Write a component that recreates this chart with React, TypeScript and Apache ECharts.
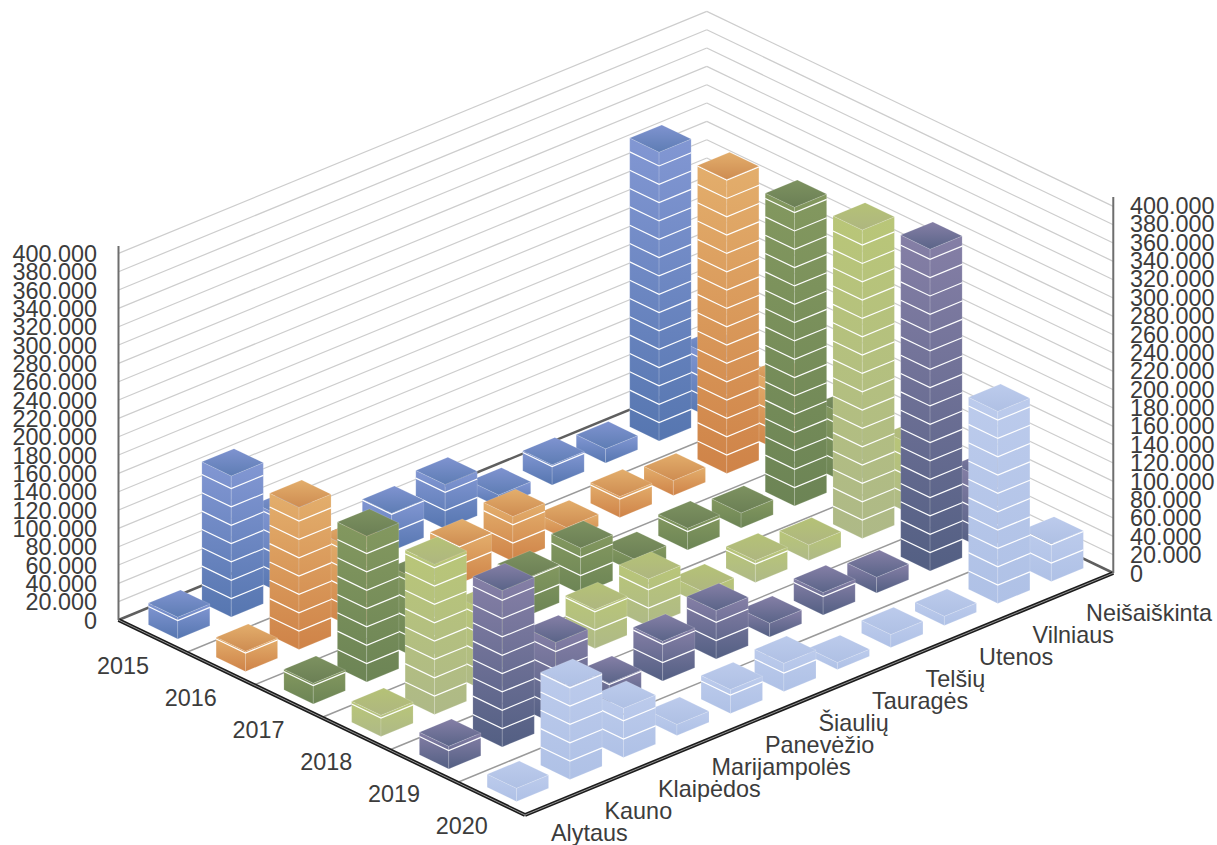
import React, { useEffect, useRef } from "react";
import * as echarts from "echarts";

const categories = ["Alytaus", "Kauno", "Klaipėdos", "Marijampolės", "Panevėžio", "Šiaulių", "Tauragės", "Telšių", "Utenos", "Vilniaus", "Neišaiškinta"];
const years = ["2015", "2016", "2017", "2018", "2019", "2020"];
const values2015 = [23700, 153800, 84000, 19000, 41000, 48400, 13000, 22000, 15300, 315000, 68000];
const values2016 = [22000, 155000, 86000, 19500, 40500, 49000, 13000, 22700, 16200, 320600, 72400];
const values2017 = [22500, 159000, 86000, 20000, 41400, 50000, 14000, 23600, 16300, 325800, 73700];
const values2018 = [23000, 164000, 88000, 20500, 42400, 51800, 14300, 23800, 16900, 336500, 76000];
const values2019 = [24700, 170600, 90000, 21400, 43300, 52800, 14900, 24400, 17000, 351000, 76600];
const values2020 = [14300, 101600, 53600, 12000, 26000, 30600, 7600, 14000, 10000, 209500, 40900];
const seriesValues = [values2015, values2016, values2017, values2018, values2019, values2020];
const valueTicks = [0, 20000, 40000, 60000, 80000, 100000, 120000, 140000, 160000, 180000, 200000, 220000, 240000, 260000, 280000, 300000, 320000, 340000, 360000, 380000, 400000];
const tickLabels = ["0", "20.000", "40.000", "60.000", "80.000", "100.000", "120.000", "140.000", "160.000", "180.000", "200.000", "220.000", "240.000", "260.000", "280.000", "300.000", "320.000", "340.000", "360.000", "380.000", "400.000"];

// [side top, side bottom, cap top, cap bottom] per year
const palette = [
  ["#8297D3", "#5676B0", "#7F93D0", "#5E7DB4"],
  ["#E3AE6C", "#CF8348", "#E3AE6C", "#CE8C51"],
  ["#83985F", "#6C8455", "#7D9260", "#6B7F55"],
  ["#B9C678", "#AEB987", "#B5C276", "#AEB680"],
  ["#857FA6", "#535F83", "#857FA6", "#5A6488"],
  ["#BCCBEC", "#AFC1E6", "#BCCBEC", "#AFC0E4"],
];

// oblique projection of the 3D box
const LEFT = [118.5, 620];
const YEAR_VEC = [67.75, 32.5];
const CAT_VEC = [53.48, -22];
const UNIT = 18.33 / 20000;
const YEAR_FRAC = 0.433;
const CAT_FRAC = 0.6;
const FONT = "Liberation Sans, Arial, sans-serif";
const TEXT = "#3c3c3c";

const project = (year: number, cat: number, value = 0): [number, number] => [
  LEFT[0] + year * YEAR_VEC[0] + cat * CAT_VEC[0],
  LEFT[1] + year * YEAR_VEC[1] + cat * CAT_VEC[1] - value * UNIT,
];
const grad = (a: string, b: string) =>
  new echarts.graphic.LinearGradient(0, 0, 0, 1, [
    { offset: 0, color: a },
    { offset: 1, color: b },
  ]);

function renderBar(_: any, api: any) {
  const cat = api.value(0);
  const yr = api.value(1);
  const v = api.value(2);
  const y0 = yr + 0.5 - YEAR_FRAC / 2;
  const y1 = yr + 0.5 + YEAR_FRAC / 2;
  const c0 = cat + 0.5 - CAT_FRAC / 2;
  const c1 = cat + 0.5 + CAT_FRAC / 2;
  const left = (h: number) => project(y0, c0, h);
  const front = (h: number) => project(y1, c0, h);
  const right = (h: number) => project(y1, c1, h);
  const back = (h: number) => project(y0, c1, h);
  const p = palette[yr];
  const edge = "rgba(255,255,255,0.14)";
  const children: any[] = [
    { type: "polygon", shape: { points: [left(v), front(v), front(0), left(0)] }, style: { fill: grad(p[0], p[1]), stroke: edge, lineWidth: 1 } },
    { type: "polygon", shape: { points: [front(v), right(v), right(0), front(0)] }, style: { fill: grad(p[0], p[1]), stroke: edge, lineWidth: 1 } },
  ];
  for (const t of valueTicks) {
    if (t > 0 && t < v) {
      children.push({
        type: "polyline",
        shape: { points: [left(t), front(t), right(t)] },
        style: { fill: "none", stroke: "#ffffff", lineWidth: 1.2 },
      });
    }
  }
  children.push({
    type: "polygon",
    shape: { points: [left(v), back(v), right(v), front(v)] },
    style: { fill: grad(p[2], p[3]), stroke: edge, lineWidth: 1 },
  });
  return { type: "group", children };
}

function line(a: number[], b: number[], stroke: string, lineWidth: number) {
  return { type: "line", silent: true, shape: { x1: a[0], y1: a[1], x2: b[0], y2: b[1] }, style: { stroke, lineWidth } };
}
function label(text: string, x: number, y: number, align: string) {
  return { type: "text", z: 5, silent: true, x, y, style: { text, x: 0, y: 0, fill: TEXT, font: `23.4px ${FONT}`, textAlign: align, textVerticalAlign: "middle" } };
}

function buildFrame() {
  const n = years.length;
  const m = categories.length;
  const els: any[] = [];
  valueTicks.forEach((t) => {
    if (t === 0) return;
    els.push(line(project(0, 0, t), project(0, m, t), "#cdcdcd", 1.2));
    els.push(line(project(0, m, t), project(n, m, t), "#cdcdcd", 1.2));
  });
  for (let i = 1; i < n; i++) els.push(line(project(i, 0), project(i, m), "#9a9a9a", 1.5));
  els.push(line(project(0, 0), project(0, m), "#5f5f5f", 2.5));
  els.push(line(project(0, m), project(n, m), "#5f5f5f", 2.5));
  els.push(line(project(0, 0), project(n, 0), "#1c1c1c", 4));
  els.push(line(project(n, 0), project(n, m), "#1c1c1c", 4));
  els.push(line(project(0, 0), project(n, 0), "#a0a0a0", 0.9));
  els.push(line(project(n, 0), project(n, m), "#a0a0a0", 0.9));
  els.push(line(project(0, 0), [LEFT[0], 246], "#6e6e6e", 2));
  const rb = project(n, m);
  els.push(line(rb, [rb[0], 197], "#6e6e6e", 2));
  valueTicks.forEach((t, k) => {
    const l = project(0, 0, t);
    const r = project(n, m, t);
    els.push(label(tickLabels[k], 97, l[1] + 0.5, "right"));
    els.push(label(tickLabels[k], 1130, r[1] + 0.5 - (t / 400000), "left"));
  });
  years.forEach((yr, i) => {
    els.push(label(yr, 97 + i * 67.75, 666 + i * 32, "left"));
  });
  categories.forEach((c, j) => {
    els.push(label(c, 551 + j * 53.5, 833.1 - j * 22, "left"));
  });
  return els;
}

export default function App() {
  const ref = useRef<HTMLDivElement>(null);
  useEffect(() => {
    document.body.style.margin = "0";
    const chart = echarts.init(ref.current!, null, { renderer: "svg" });
    const data: number[][] = [];
    years.forEach((_, i) => {
      for (let j = categories.length - 1; j >= 0; j--) data.push([j, i, seriesValues[i][j]]);
    });
    chart.setOption({
      animation: false,
      backgroundColor: "#ffffff",
      graphic: { elements: buildFrame() },
      series: [
        {
          type: "custom",
          coordinateSystem: "none",
          silent: true,
          z: 3,
          renderItem: renderBar,
          data,
        },
      ],
    });
    return () => chart.dispose();
  }, []);
  return <div ref={ref} style={{ width: 1217, height: 845 }} />;
}
